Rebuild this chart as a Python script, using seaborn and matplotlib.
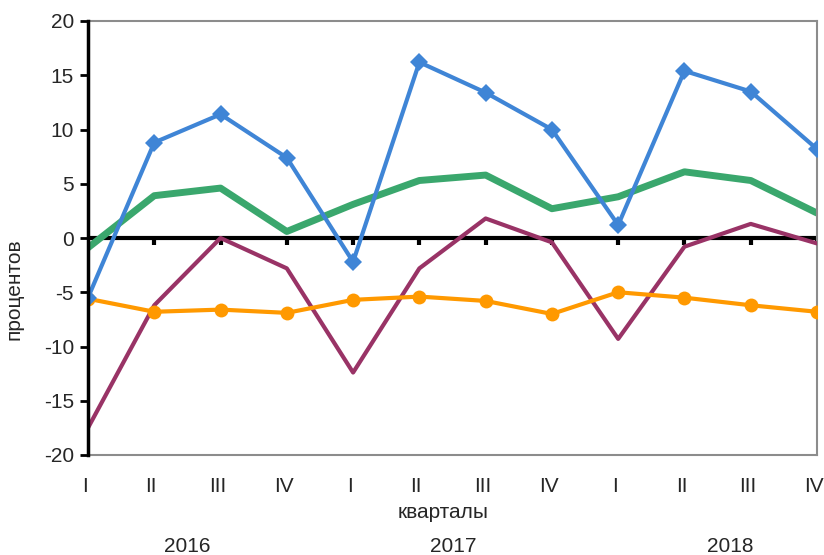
import numpy as np
import pandas as pd
import matplotlib
matplotlib.use("Agg")
import matplotlib.pyplot as plt
import matplotlib.transforms as mtrans
import seaborn as sns

quarters = ["I", "II", "III", "IV"] * 3
years = ["2016", "2017", "2018"]
blue = [-5.5, 8.8, 11.4, 7.4, -2.2, 16.2, 13.4, 10.0, 1.2, 15.4, 13.5, 8.2]
green = [-0.9, 3.9, 4.6, 0.6, 3.1, 5.3, 5.8, 2.7, 3.8, 6.1, 5.3, 2.3]
purple = [-17.5, -6.2, 0.0, -2.8, -12.4, -2.8, 1.8, -0.4, -9.3, -0.8, 1.3, -0.5]
orange = [-5.6, -6.8, -6.6, -6.9, -5.7, -5.4, -5.8, -7.0, -5.0, -5.5, -6.2, -6.8]

sns.set_style("white")
plt.rcParams["font.family"] = ["Liberation Sans", "DejaVu Sans"]
plt.rcParams["axes.unicode_minus"] = False

FS = 15

fig = plt.figure(figsize=(8.24, 5.55), dpi=100)
ax = fig.add_axes([88 / 824, 1 - 455 / 555, (817 - 88) / 824, (455 - 21) / 555])

x = np.arange(len(quarters))
df = pd.DataFrame({"x": x, "blue": blue, "green": green, "purple": purple, "orange": orange})

ax.axhline(0, color="black", lw=3, zorder=1)
for xi in x[1:]:
    ax.plot([xi, xi], [0, -0.65], color="black", lw=3, solid_capstyle="butt", zorder=1)

sns.lineplot(data=df, x="x", y="green", ax=ax, color="#3aa76d", lw=5, zorder=2)
sns.lineplot(data=df, x="x", y="purple", ax=ax, color="#993366", lw=3, zorder=3)
sns.lineplot(data=df, x="x", y="orange", ax=ax, color="#ff9900", lw=3,
             marker="o", markersize=10, markeredgewidth=0, zorder=4)
sns.lineplot(data=df, x="x", y="blue", ax=ax, color="#3f85d6", lw=3,
             marker="D", markersize=9, markeredgewidth=0, zorder=5)

ax.set_xlim(0, 11)
ax.set_ylim(-20, 20)
ax.set_yticks(np.arange(-20, 21, 5))
ax.set_yticklabels([str(v) for v in range(-20, 21, 5)], fontsize=FS)
ax.set_xticks(x)
ax.set_xticklabels(quarters, fontsize=FS)
ax.tick_params(axis="x", length=0, pad=16)
ax.tick_params(axis="y", length=6, width=2, direction="out", color="black", pad=4, left=True)
ax.set_xlabel("")
ax.set_ylabel("")
shift = mtrans.ScaledTranslation(-3 / 100, 0, fig.dpi_scale_trans)
for lbl in ax.get_xticklabels():
    lbl.set_transform(lbl.get_transform() + shift)

for side in ["top", "right", "bottom"]:
    ax.spines[side].set_color("#8c8c8c")
    ax.spines[side].set_linewidth(1.5)
ax.spines["left"].set_color("black")
ax.spines["left"].set_linewidth(2.5)
ax.spines["left"].set_zorder(6)

fig.text(443 / 824, 1 - 512 / 555, "кварталы", ha="center", va="center", fontsize=FS)
for xp, yr in zip([187, 453, 730], years):
    fig.text(xp / 824, 1 - 546 / 555, yr, ha="center", va="center", fontsize=FS)
fig.text(14 / 824, 1 - 289 / 555, "процентов", ha="center", va="center", rotation=90, fontsize=FS)

fig.savefig("out.png", dpi=100)
